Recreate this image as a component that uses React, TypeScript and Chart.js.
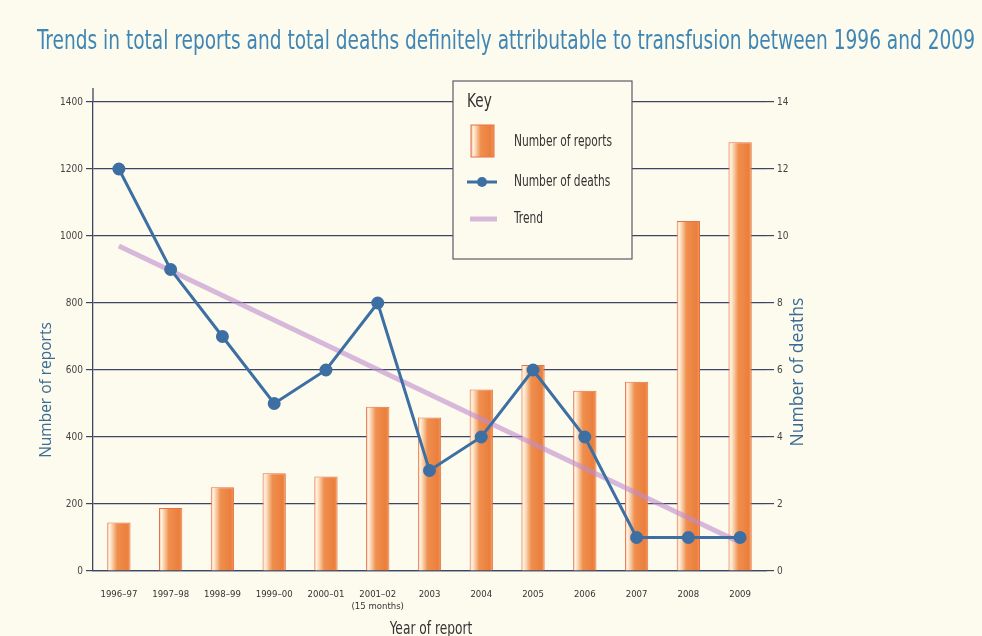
import React, { useEffect, useRef } from "react";
import { Chart, registerables } from "chart.js";

Chart.register(...registerables);

const categories: (string | string[])[] = [
  "1996–97", "1997–98", "1998–99", "1999–00", "2000–01",
  ["2001–02", "(15 months)"], "2003", "2004", "2005", "2006", "2007", "2008", "2009",
];
const reports = [145, 188, 250, 292, 282, 490, 458, 542, 615, 538, 565, 1045, 1280];
const deaths = [12, 9, 7, 5, 6, 8, 3, 4, 6, 4, 1, 1, 1];
const trend: (number | null)[] = [9.7, null, null, null, null, null, null, null, null, null, null, null, 0.85];
const reportTicks = { min: 0, max: 1400, step: 200 };
const deathTicks = { min: 0, max: 14, step: 2 };

const TITLE = "Trends in total reports and total deaths definitely attributable to transfusion between 1996 and 2009";
const COND = '"Liberation Sans Narrow", "DejaVu Sans Condensed", "Roboto Condensed", "Open Sans", sans-serif';
const SANS = '"Open Sans", "Noto Sans", sans-serif';
const BG = "#fcfbee";
const GRID = "#3c4662";
const BLUE = "#3d6fa3";
const TREND = "rgba(190,140,205,0.6)";

function barGradient(c: CanvasRenderingContext2D, x0: number, x1: number) {
  const g = c.createLinearGradient(x0, 0, x1, 0);
  g.addColorStop(0, "#f4b890");
  g.addColorStop(0.1, "#fff3e2");
  g.addColorStop(0.22, "#f9d0aa");
  g.addColorStop(0.42, "#ef8f4e");
  g.addColorStop(0.85, "#eb7f3d");
  g.addColorStop(1, "#f09a58");
  return g;
}

function narrowText(c: CanvasRenderingContext2D, text: string, x: number, y: number, sx: number) {
  c.save();
  c.translate(x, y);
  c.scale(sx, 1);
  c.fillText(text, 0, 0);
  c.restore();
}

const decor = {
  id: "decor",
  beforeDraw(chart: any) {
    const c = chart.ctx;
    c.save();
    c.fillStyle = BG;
    c.fillRect(0, 0, chart.width, chart.height);
    c.restore();
  },
  afterDraw(chart: any) {
    const c: CanvasRenderingContext2D = chart.ctx;
    const a = chart.chartArea;
    c.save();
    // title
    c.font = `27px ${COND}`;
    c.fillStyle = "#3f86b5";
    c.textBaseline = "alphabetic";
    c.textAlign = "left";
    const tw = c.measureText(TITLE).width;
    narrowText(c, TITLE, 37, 49, 938 / tw);

    // left axis line extension above top
    c.strokeStyle = GRID;
    c.lineWidth = 1.3;
    c.beginPath();
    c.moveTo(a.left, a.top - 14);
    c.lineTo(a.left, a.top);
    c.stroke();

    // axis titles
    c.fillStyle = "#3b6b94";
    c.textAlign = "center";
    c.textBaseline = "middle";
    c.save();
    c.translate(47, 390);
    c.rotate(-Math.PI / 2);
    c.font = `15.5px ${SANS}`;
    c.fillText("Number of reports", 0, 0);
    c.restore();
    c.save();
    c.translate(798, 372);
    c.rotate(-Math.PI / 2);
    c.font = `17.5px ${SANS}`;
    c.fillText("Number of deaths", 0, 0);
    c.restore();
    c.fillStyle = "#333";
    c.font = `17px ${COND}`;
    narrowText(c, "Year of report", 431, 630, 0.8);

    // legend box
    const bx = 453, by = 81, bw = 179, bh = 178;
    c.fillStyle = BG;
    c.fillRect(bx, by, bw, bh);
    c.strokeStyle = "#5a5a66";
    c.lineWidth = 1.2;
    c.strokeRect(bx, by, bw, bh);
    c.textAlign = "left";
    c.fillStyle = "#333";
    c.font = `19px ${COND}`;
    narrowText(c, "Key", 467, 102, 0.8);
    c.font = `15px ${COND}`;
    // reports swatch
    c.fillStyle = barGradient(c, 471, 494);
    c.fillRect(471, 125, 23, 32);
    c.strokeStyle = "#e8704a";
    c.lineWidth = 1;
    c.strokeRect(471, 125, 23, 32);
    c.fillStyle = "#333";
    narrowText(c, "Number of reports", 514, 142, 0.79);
    // deaths swatch
    c.strokeStyle = BLUE;
    c.lineWidth = 3;
    c.beginPath();
    c.moveTo(467, 182);
    c.lineTo(497, 182);
    c.stroke();
    c.fillStyle = BLUE;
    c.beginPath();
    c.arc(482, 182, 5, 0, Math.PI * 2);
    c.fill();
    c.fillStyle = "#333";
    narrowText(c, "Number of deaths", 514, 182, 0.79);
    // trend swatch
    c.strokeStyle = TREND;
    c.lineWidth = 5;
    c.beginPath();
    c.moveTo(470, 219);
    c.lineTo(497, 219);
    c.stroke();
    c.fillStyle = "#333";
    narrowText(c, "Trend", 514, 219, 0.79);
    c.restore();
  },
};

export default function App() {
  const ref = useRef<HTMLCanvasElement>(null);
  useEffect(() => {
    if (!ref.current) return;
    const chart = new Chart(ref.current, {
      type: "bar",
      data: {
        labels: categories as any,
        datasets: [
          {
            type: "line",
            label: "Number of deaths",
            data: deaths,
            yAxisID: "y1",
            borderColor: BLUE,
            backgroundColor: BLUE,
            borderWidth: 3,
            pointRadius: 5,
            pointBackgroundColor: BLUE,
            pointBorderColor: BLUE,
            tension: 0,
            order: 0,
          } as any,
          {
            type: "line",
            label: "Trend",
            data: trend,
            yAxisID: "y1",
            borderColor: TREND,
            borderWidth: 5,
            pointRadius: 0,
            spanGaps: true,
            borderCapStyle: "butt",
            order: 1,
          } as any,
          {
            type: "bar",
            label: "Number of reports",
            data: reports,
            yAxisID: "y",
            barPercentage: 0.9,
            categoryPercentage: 0.5,
            borderColor: "#e8704a",
            borderWidth: 1,
            backgroundColor: (ctx: any) => {
              const xs = ctx.chart.scales?.x;
              if (!xs || ctx.type !== "data") return "#ed8a45";
              const cx = xs.getPixelForValue(ctx.dataIndex);
              const w = (xs.width / categories.length) * 0.45;
              if (!isFinite(cx) || !isFinite(w) || w <= 0) return "#ed8a45";
              return barGradient(ctx.chart.ctx, cx - w / 2, cx + w / 2);
            },
            order: 2,
          } as any,
        ],
      },
      options: {
        responsive: false,
        animation: false,
        layout: { padding: { top: 102, left: 0, right: 0, bottom: 0 } },
        plugins: { legend: { display: false }, title: { display: false }, tooltip: { enabled: false } },
        scales: {
          x: {
            offset: true,
            grid: { display: false },
            border: { display: true, color: GRID, width: 1.3 },
            ticks: { font: { family: COND, size: 9.5 }, color: "#333", padding: 10, maxRotation: 0, autoSkip: false },
            afterFit: (s: any) => { s.height = 65; },
          },
          y: {
            position: "left",
            min: reportTicks.min,
            max: reportTicks.max,
            ticks: { stepSize: reportTicks.step, font: { family: COND, size: 10 }, color: "#444", padding: 3, callback: (v: any) => String(v) },
            grid: { color: GRID, lineWidth: 1.2, tickLength: 7 },
            border: { display: true, color: GRID, width: 1.3 },
            afterFit: (s: any) => { s.width = 93; },
          },
          y1: {
            position: "right",
            min: deathTicks.min,
            max: deathTicks.max,
            ticks: { stepSize: deathTicks.step, font: { family: COND, size: 10 }, color: "#444", padding: 3, callback: (v: any) => String(v) },
            grid: { drawOnChartArea: false, color: GRID, lineWidth: 1.2, tickLength: 8 },
            border: { display: false },
            afterFit: (s: any) => { s.width = 216; },
          },
        },
      } as any,
      plugins: [decor],
    });
    return () => chart.destroy();
  }, []);
  return (
    <div style={{ position: "absolute", left: 0, top: 0, width: 982, height: 636, background: BG }}>
      <canvas ref={ref} width={982} height={636} style={{ display: "block" }} />
    </div>
  );
}
